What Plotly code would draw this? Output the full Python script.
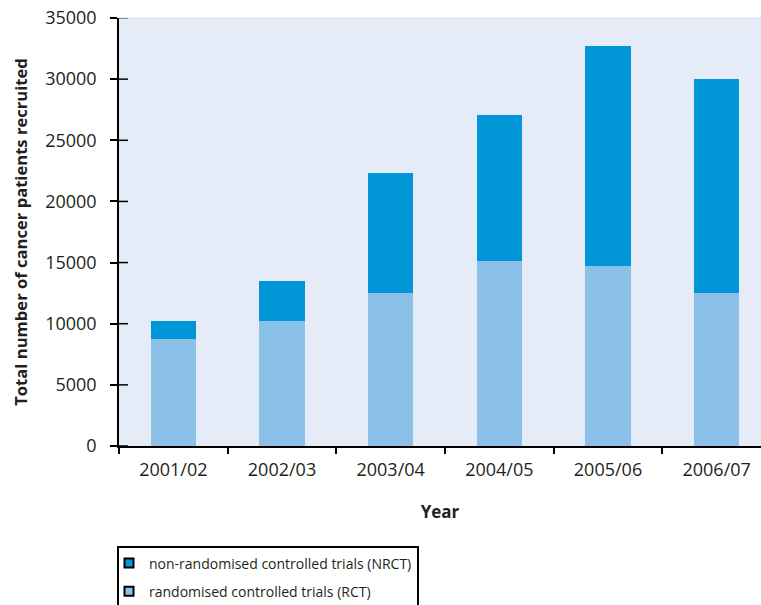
import plotly.graph_objects as go

years = ["2001/02", "2002/03", "2003/04", "2004/05", "2005/06", "2006/07"]
rct = [8750, 10250, 12500, 15150, 14700, 12500]
nrct = [1450, 3250, 9800, 11900, 18000, 17500]
y_ticks = [0, 5000, 10000, 15000, 20000, 25000, 30000, 35000]

# stacking order, bottom to top
series = [
    ("randomised controlled trials (RCT)", rct, "#8BC0E8"),
    ("non-randomised controlled trials (NRCT)", nrct, "#0096D8"),
]

TEXT = "#231F20"
FONT = "Open Sans"

fig = go.Figure()
for name, vals, color in series:
    fig.add_trace(go.Bar(
        x=years, y=vals, name=name, showlegend=False,
        marker=dict(color=color, line=dict(width=0)), width=0.415,
    ))
# legend keys (top series listed first): small squares with a black outline
for name, vals, color in reversed(series):
    fig.add_trace(go.Scatter(
        x=[None], y=[None], mode="markers", name=name, legendgroup=name,
        marker=dict(symbol="square", size=9, color=color,
                    line=dict(color="black", width=2)),
    ))

# inward half of the crossing y-axis ticks
shapes = []
for v in y_ticks:
    shapes.append(dict(type="line", xref="paper", yref="y", x0=0, x1=9 / 642,
                       y0=v, y1=v, line=dict(color="black", width=1.5)))
# thin border along the top of the plotting area
shapes.append(dict(type="line", xref="paper", yref="paper", x0=0, x1=1, y0=1, y1=1,
                   line=dict(color="#D3DDE8", width=1)))

fig.update_layout(
    width=761, height=605,
    margin=dict(l=119, r=0, t=18, b=159, autoexpand=False),
    barmode="stack",
    plot_bgcolor="#E5ECF7",
    paper_bgcolor="white",
    font=dict(family=FONT, color=TEXT, size=18),
    shapes=shapes,
    showlegend=True,
    legend=dict(
        x=-2 / 642, y=-99.5 / 428, xanchor="left", yanchor="top",
        traceorder="grouped", bordercolor="black", borderwidth=2,
        bgcolor="white", font=dict(family=FONT, size=14, color=TEXT),
        tracegroupgap=7, itemwidth=30, indentation=-10,
    ),
    xaxis=dict(
        type="category", range=[-0.5, 5.408], tickson="boundaries",
        ticks="outside", ticklen=6, tickcolor="black", tickwidth=1.5,
        showline=True, linecolor="black", linewidth=1.5,
        showgrid=False, tickfont=dict(size=18, color=TEXT),
        ticklabelstandoff=7,
        title=dict(text="<b>Year</b>", font=dict(size=17, color=TEXT), standoff=26),
    ),
    yaxis=dict(
        range=[0, 35000], tickvals=y_ticks, ticktext=[str(v) for v in y_ticks],
        ticks="outside", ticklen=7, tickcolor="black", tickwidth=1.5,
        showline=True, linecolor="black", linewidth=1.5,
        showgrid=False, zeroline=False, tickfont=dict(size=18, color=TEXT),
        ticklabelstandoff=10,
        title=dict(text="<b>Total number of cancer patients recruited</b>",
                   font=dict(size=16.6, color=TEXT), standoff=13),
    ),
)

fig.write_html("out.html")
